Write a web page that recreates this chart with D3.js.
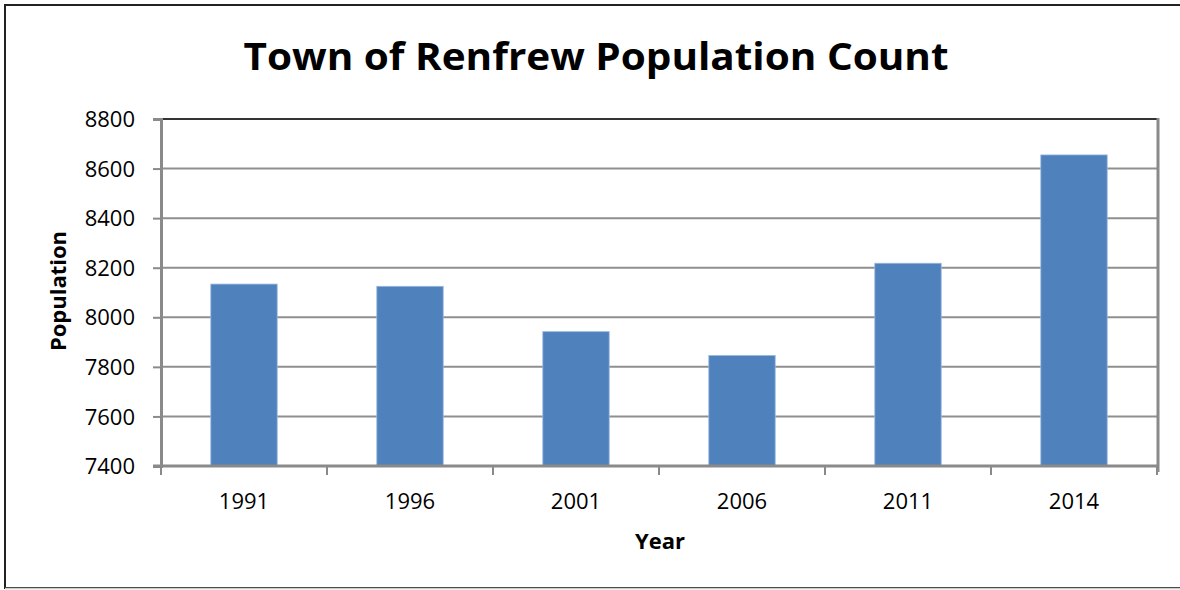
<!DOCTYPE html>
<html>
<head>
<meta charset="utf-8">
<script src="https://cdn.jsdelivr.net/npm/d3@7"></script>
<style>
  html, body { margin: 0; padding: 0; background: #fff; }
  svg { display: block; }
  text { font-family: "Open Sans", "Liberation Sans", sans-serif; fill: #000; }
</style>
</head>
<body>
<svg id="chart" width="1180" height="590"></svg>
<script>
// Census counts for the Town of Renfrew
const years = ["1991", "1996", "2001", "2006", "2011", "2014"];
const population = [8134, 8125, 7942, 7846, 8218, 8655];
const yTicks = [7400, 7600, 7800, 8000, 8200, 8400, 8600, 8800];

const svg = d3.select("#chart");
const W = 1180, H = 590;
const plot = { left: 161, right: 1157, top: 119, bottom: 466 };

// outer frame
svg.append("rect").attr("x", 5).attr("y", 5).attr("width", W + 10).attr("height", 583)
  .attr("fill", "#fff").attr("stroke", "#222").attr("stroke-width", 2);
svg.append("line").attr("x1", 5).attr("x2", W).attr("y1", 588.5).attr("y2", 588.5)
  .attr("stroke", "#ccc").attr("stroke-width", 1.5);

const x = d3.scaleBand().domain(years).range([plot.left, plot.right]).paddingInner(0.6).paddingOuter(0.3);
const xEdges = d3.scaleLinear().domain([0, years.length]).range([plot.left, plot.right]);
const y = d3.scaleLinear().domain([7400, 8800]).range([plot.bottom, plot.top]);

// horizontal gridlines
svg.append("g").selectAll("line").data(yTicks.slice(1)).join("line")
  .attr("x1", plot.left).attr("x2", plot.right)
  .attr("y1", d => y(d)).attr("y2", d => y(d))
  .attr("stroke", d => d === 8800 ? "#333" : "#8f8f8f").attr("stroke-width", 2);

// right border of the plot area
svg.append("line").attr("x1", plot.right + 1).attr("x2", plot.right + 1)
  .attr("y1", plot.top - 1).attr("y2", plot.bottom + 6)
  .attr("stroke", "#8a8a8a").attr("stroke-width", 3);

// bars
svg.append("g").selectAll("rect").data(years).join("rect")
  .attr("x", d => x(d))
  .attr("width", x.bandwidth())
  .attr("y", (d, i) => y(population[i]))
  .attr("height", (d, i) => plot.bottom - y(population[i]))
  .attr("fill", "#4f81bd")
  .attr("stroke", "#9ab8dc").attr("stroke-width", 0.8);

// y axis
const yAxis = d3.axisLeft(y).tickValues(yTicks).tickSize(8).tickPadding(18).tickFormat(d3.format("d"));
const gy = svg.append("g").attr("transform", `translate(${plot.left},0)`).call(yAxis);
gy.select(".domain").attr("stroke", "#8a8a8a").attr("stroke-width", 3);
gy.selectAll(".tick line").attr("stroke", "#8a8a8a").attr("stroke-width", 2);
gy.selectAll(".tick text").style("font-size", "22px").attr("fill", "#111")
  .style("font-family", "'Open Sans', sans-serif").attr("dy", "0.35em");

// x axis line with boundary ticks
svg.append("line").attr("x1", plot.left - 8).attr("x2", plot.right + 2)
  .attr("y1", plot.bottom).attr("y2", plot.bottom)
  .attr("stroke", "#8a8a8a").attr("stroke-width", 3);
svg.append("g").selectAll("line").data(d3.range(years.length + 1)).join("line")
  .attr("x1", d => xEdges(d)).attr("x2", d => xEdges(d))
  .attr("y1", plot.bottom).attr("y2", plot.bottom + 9)
  .attr("stroke", "#8a8a8a").attr("stroke-width", 2);

const xAxis = d3.axisBottom(x).tickSize(0).tickPadding(27);
const gx = svg.append("g").attr("transform", `translate(0,${plot.bottom})`).call(xAxis);
gx.select(".domain").remove();
gx.selectAll(".tick text").style("font-size", "22px").attr("fill", "#111")
  .style("font-family", "'Open Sans', sans-serif");

// title
svg.append("text").attr("x", 596).attr("y", 70).attr("text-anchor", "middle")
  .style("font-size", "38px").style("font-weight", "bold")
  .attr("textLength", 705).attr("lengthAdjust", "spacingAndGlyphs")
  .text("Town of Renfrew Population Count");

// axis titles
svg.append("text").attr("x", 660).attr("y", 549).attr("text-anchor", "middle")
  .style("font-size", "22px").style("font-weight", "bold").text("Year");
svg.append("text").attr("transform", "translate(66,291) rotate(-90)").attr("text-anchor", "middle")
  .style("font-size", "22px").style("font-weight", "bold").text("Population");
</script>
</body>
</html>
